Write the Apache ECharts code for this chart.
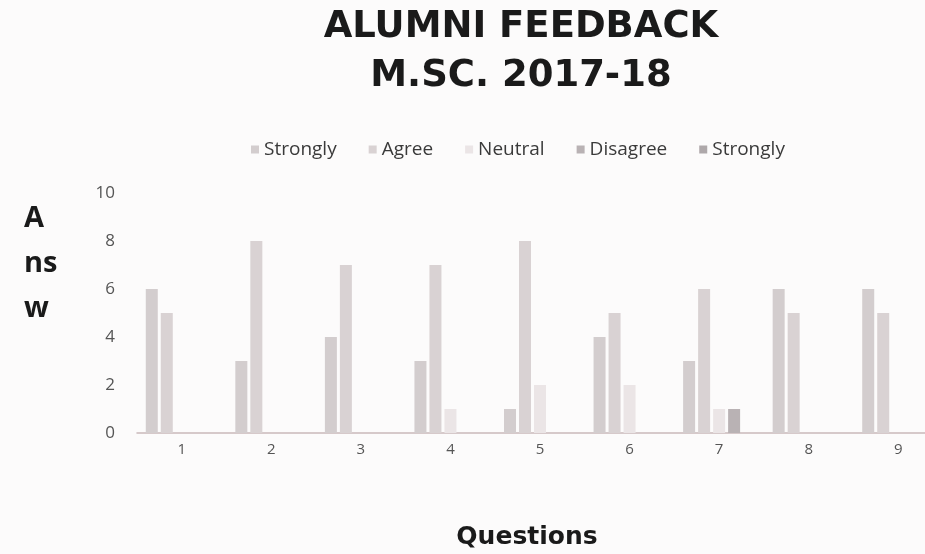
<!DOCTYPE html>
<html><head><meta charset="utf-8">
<script src="https://cdn.jsdelivr.net/npm/echarts@6/dist/echarts.min.js"></script>
<style>html,body{margin:0;padding:0;background:#fcfbfb;}#c{width:925px;height:554px;}</style>
</head><body><div id="c"></div>
<script>
var categories = ['1','2','3','4','5','6','7','8','9'];
var seriesNames = ['Strongly', 'Agree', 'Neutral', 'Disagree', 'Strongly '];
var stronglyAgree = [6, 3, 4, 3, 1, 4, 3, 6, 6];
var agree = [5, 8, 7, 7, 8, 5, 6, 5, 5];
var neutral = [0, 0, 0, 1, 2, 2, 1, 0, 0];
var disagree = [0, 0, 0, 0, 0, 0, 1, 0, 0];
var stronglyDisagree = [0, 0, 0, 0, 0, 0, 0, 0, 0];
var yTicks = {min: 0, max: 10, interval: 2};

var allValues = [stronglyAgree, agree, neutral, disagree, stronglyDisagree];
var colors = ['#d3cdce', '#d9d2d3', '#ebe5e6', '#b9b2b4', '#aea8aa'];

var chart = echarts.init(document.getElementById('c'));
chart.setOption({
  backgroundColor: '#fcfbfb',
  animation: false,
  color: colors,
  title: [
    {text: 'ALUMNI FEEDBACK\nM.SC. 2017-18', left: 516, top: -2, textAlign: 'center',
     textStyle: {fontFamily: 'DejaVu Sans', fontWeight: 'bold', fontSize: 37, lineHeight: 49, color: '#1a1a1a'}},
    {text: 'A\nns\nw', left: 19, top: 191, textAlign: 'left',
     textStyle: {fontFamily: 'Open Sans', fontWeight: 'bold', fontSize: 29, lineHeight: 45, color: '#1a1a1a'}},
    {text: 'Questions', left: 522, top: 520, textAlign: 'center',
     textStyle: {fontFamily: 'DejaVu Sans', fontWeight: 'bold', fontSize: 25, color: '#1a1a1a'}}
  ],
  legend: {
    data: seriesNames, top: 135, left: 246, itemWidth: 8, itemHeight: 8, itemGap: 32,
    icon: 'rect',
    textStyle: {fontFamily: 'Open Sans', fontSize: 19, color: '#3a3a3a'}
  },
  grid: {left: 137, top: 193, width: 806, height: 240, containLabel: false, outerBoundsMode: 'none'},
  xAxis: {
    type: 'category', data: categories,
    axisLine: {lineStyle: {color: '#c9b9bb', width: 1.5}},
    axisTick: {show: false},
    axisLabel: {fontFamily: 'Open Sans', fontSize: 15, color: '#555', margin: 9}
  },
  yAxis: {
    type: 'value', min: yTicks.min, max: yTicks.max, interval: yTicks.interval,
    axisLine: {show: false}, axisTick: {show: false},
    splitLine: {show: false},
    axisLabel: {fontFamily: 'Open Sans', fontSize: 17, color: '#555', margin: 22}
  },
  series: seriesNames.map(function (n, i) {
    return {name: n, type: 'bar', data: allValues[i], barWidth: 12, barGap: '25%', barCategoryGap: '16%'};
  })
});
</script></body></html>
